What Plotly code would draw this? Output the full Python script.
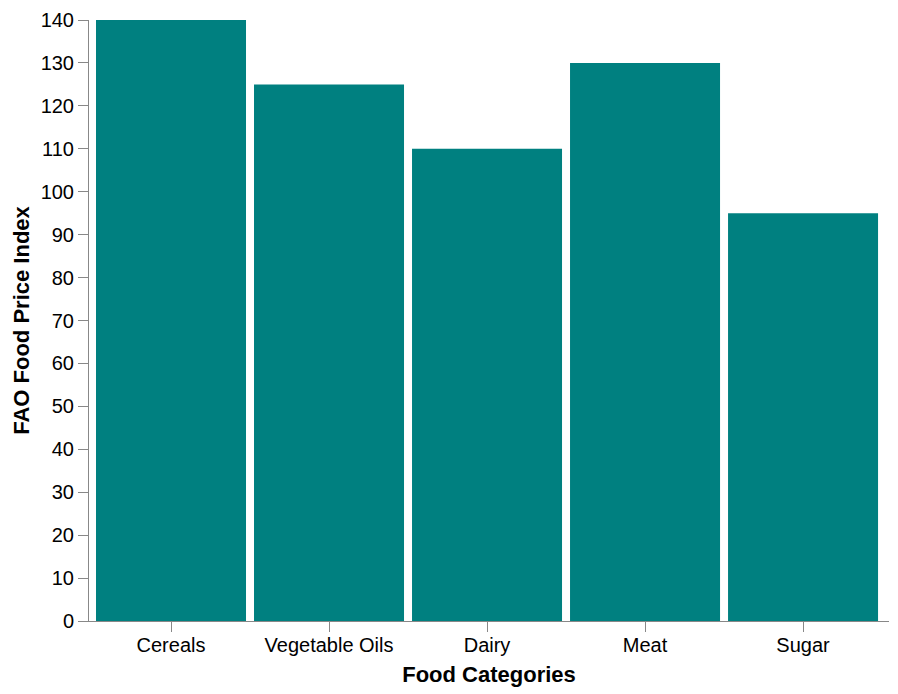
import plotly.graph_objects as go

categories = ["Cereals", "Vegetable Oils", "Dairy", "Meat", "Sugar"]
values = [140, 125, 110, 130, 95]
y_ticks = list(range(0, 141, 10))

fig = go.Figure(go.Bar(x=categories, y=values, marker=dict(color="#008080", line=dict(width=0))))

axis_font = dict(family="Liberation Sans, Arial, sans-serif", size=20, color="#000")
title_font = dict(family="Liberation Sans, Arial, sans-serif", size=22, color="#000")

fig.update_layout(
    width=898, height=694,
    margin=dict(l=89, r=9, t=20, b=73),
    plot_bgcolor="white", paper_bgcolor="white",
    bargap=0.0506,
    showlegend=False,
    xaxis=dict(
        range=[-0.519, 4.544],
        showgrid=False, showline=True, linecolor="#888", linewidth=1,
        ticks="outside", ticklen=10, tickcolor="#888", tickwidth=1,
        ticklabelstandoff=-4,
        tickfont=axis_font,
        title=dict(text="<b>Food Categories</b>", font=title_font, standoff=11),
    ),
    yaxis=dict(
        range=[0, 140], tickvals=y_ticks,
        showgrid=False, zeroline=False, showline=True, linecolor="#888", linewidth=1,
        ticks="outside", ticklen=10, tickcolor="#888", tickwidth=1,
        tickfont=axis_font,
        title=dict(text="<b>FAO Food Price Index</b>", font=title_font, standoff=4),
    ),
)

fig.write_html("out.html")
